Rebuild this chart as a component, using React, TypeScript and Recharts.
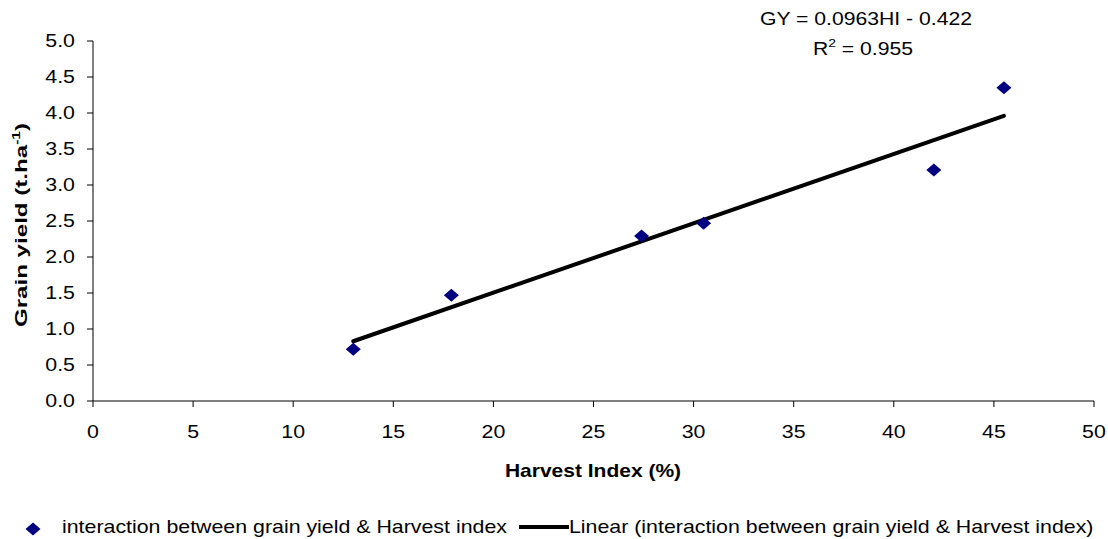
import { ScatterChart, Scatter, XAxis, YAxis } from 'recharts';

const FONT = '"Liberation Sans", Arial, sans-serif';
const FS = 17.5;
const SX = 1.22; // the reference text is drawn wider than it is tall

// observed points: harvest index (%) vs grain yield (t/ha)
const harvestIndex = [13.0, 17.9, 27.4, 30.5, 42.0, 45.5];
const grainYield = [0.72, 1.47, 2.29, 2.47, 3.21, 4.35];

// fitted line GY = 0.0963HI - 0.422, drawn between the data range ends
const trendX = [13.0, 45.5];
const trendY = [0.83, 3.96];

const xTicks = [0, 5, 10, 15, 20, 25, 30, 35, 40, 45, 50];
const yTicks = [0, 0.5, 1, 1.5, 2, 2.5, 3, 3.5, 4, 4.5, 5];

const points = harvestIndex.map((x, i) => ({ x, y: grainYield[i] }));
const trend = trendX.map((x, i) => ({ x, y: trendY[i] }));

const Diamond = (props: any) => {
  const { cx, cy } = props;
  if (cx == null || cy == null) return <g />;
  const rx = 7.5;
  const ry = 6.5;
  return (
    <polygon
      points={`${cx},${cy - ry} ${cx + rx},${cy} ${cx},${cy + ry} ${cx - rx},${cy}`}
      fill="#000080"
    />
  );
};

// text stretched horizontally like the reference
const Wide = ({ x, y, anchor = 'start', bold = false, sx = SX, children }: any) => (
  <g transform={`translate(${x},${y}) scale(${sx},1)`}>
    <text x={0} y={0} textAnchor={anchor} fontSize={FS} fontFamily={FONT} fontWeight={bold ? 'bold' : 'normal'} fill="#000">
      {children}
    </text>
  </g>
);

const XTick = (props: any) => {
  const { x, y, payload } = props;
  return <Wide x={x} y={y + 12.4} anchor="middle">{payload.value}</Wide>;
};

const YTick = (props: any) => {
  const { x, y, payload } = props;
  return <Wide x={x} y={y + 6} anchor="end">{Number(payload.value).toFixed(1)}</Wide>;
};

export default function App() {
  return (
    <div style={{ position: 'fixed', left: 0, top: 0, width: 1108, height: 539, fontFamily: FONT, background: '#fff', overflow: 'visible' }}>
      <ScatterChart width={1108} height={539} margin={{ top: 41, right: 14, left: 0, bottom: 108 }} style={{ overflow: 'visible' }}>
        <XAxis
          type="number"
          dataKey="x"
          domain={[0, 50]}
          ticks={xTicks}
          height={30}
          stroke="#000"
          tickSize={6}
          tickMargin={19}
          tick={<XTick />}
        />
        <YAxis
          type="number"
          dataKey="y"
          domain={[0, 5]}
          ticks={yTicks}
          width={93}
          stroke="#000"
          tickSize={6}
          tickMargin={12}
          tick={<YTick />}
        />
        <Scatter
          data={trend}
          line={{ stroke: '#000', strokeWidth: 4, strokeLinecap: 'round' }}
          shape={() => <g />}
          isAnimationActive={false}
        />
        <Scatter data={points} shape={<Diamond />} isAnimationActive={false} />
      </ScatterChart>

      <svg width={1108} height={539} style={{ position: 'absolute', left: 0, top: 0, pointerEvents: 'none' }}>
        <Wide x={866} y={25} anchor="middle" sx={1.21}>GY = 0.0963HI - 0.422</Wide>
        <Wide x={863} y={55} anchor="middle" sx={1.21}>
          R<tspan fontSize={11.5} dy={-8}>2</tspan><tspan dy={8}> = 0.955</tspan>
        </Wide>
        <Wide x={593} y={477} anchor="middle" bold sx={1.2}>Harvest Index (%)</Wide>

        <g transform="translate(27,225) rotate(-90) scale(1.42,1)">
          <text x={0} y={0} textAnchor="middle" fontSize={17} fontWeight="bold" fontFamily={FONT} fill="#000">
            Grain yield (t.ha<tspan fontSize={11} dy={-7}>-1</tspan><tspan dy={7}>)</tspan>
          </text>
        </g>

        <polygon points="33,522.5 40.5,529 33,535.5 25.5,529" fill="#000080" />
        <Wide x={62} y={533}>interaction between grain yield &amp; Harvest index</Wide>
        <line x1={519} y1={527} x2={569} y2={527} stroke="#000" strokeWidth={4} />
        <Wide x={569} y={533}>Linear (interaction between grain yield &amp; Harvest index)</Wide>
      </svg>
    </div>
  );
}
